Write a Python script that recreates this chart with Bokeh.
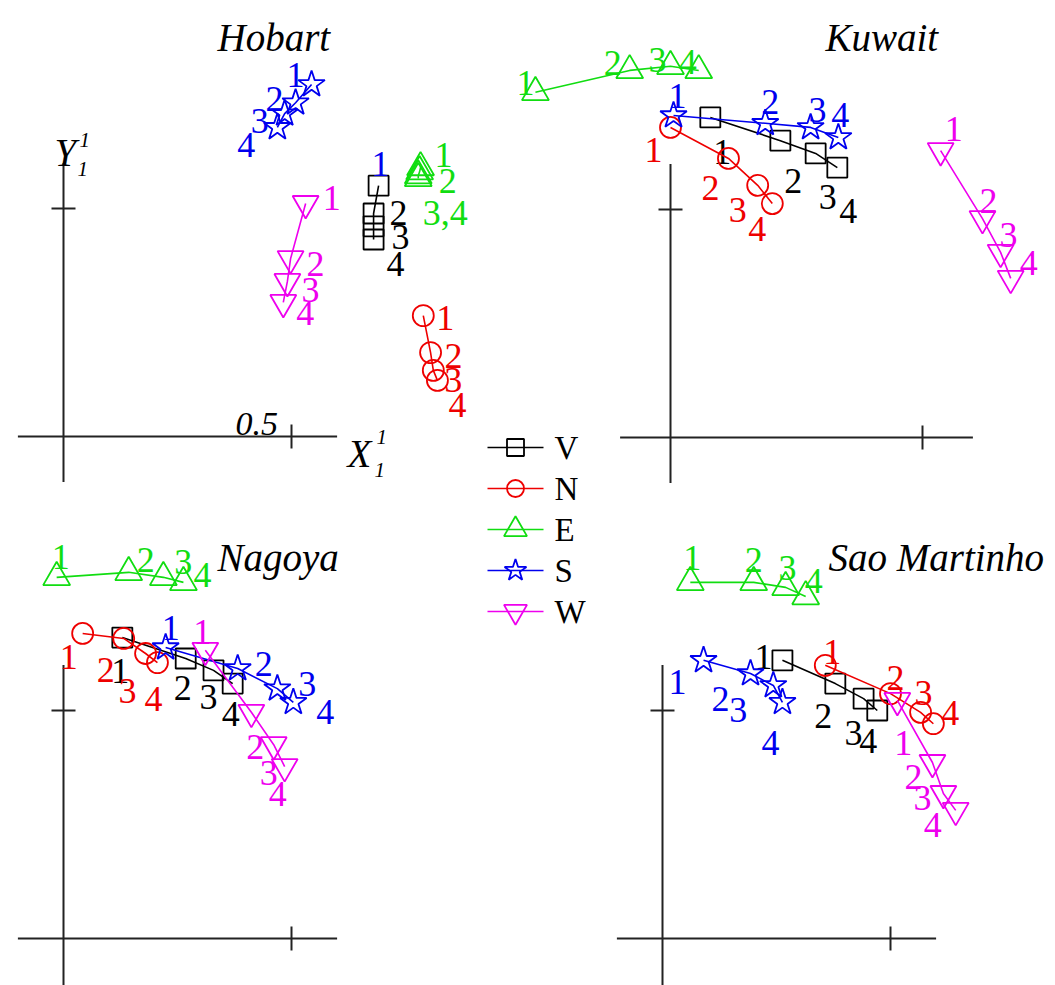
from bokeh.plotting import figure
from bokeh.models import Range1d, ColumnDataSource, Label
from bokeh.embed import file_html
from bokeh.resources import INLINE
from bokeh.core.properties import value

W_PX, H_PX = 1055, 985
FONT = "Liberation Serif"

# ---------------- data (X'1, Y'1 coordinates) ----------------
series = ["V", "N", "E", "S", "W"]
point_labels = ["1", "2", "3", "4"]

# Hobart
hob_V_x = [0.691, 0.680, 0.680, 0.680]
hob_V_y = [0.550, 0.489, 0.461, 0.432]
hob_N_x = [0.789, 0.805, 0.811, 0.820]
hob_N_y = [0.265, 0.184, 0.145, 0.123]
hob_E_x = [0.783, 0.781, 0.778, 0.778]
hob_E_y = [0.590, 0.581, 0.572, 0.566]
hob_S_x = [0.544, 0.509, 0.485, 0.469]
hob_S_y = [0.772, 0.732, 0.708, 0.678]
hob_W_x = [0.531, 0.498, 0.491, 0.482]
hob_W_y = [0.511, 0.390, 0.340, 0.294]

# Kuwait
kuw_V_x = [0.079, 0.218, 0.288, 0.331]
kuw_V_y = [0.702, 0.651, 0.623, 0.592]
kuw_N_x = [0.000, 0.115, 0.173, 0.202]
kuw_N_y = [0.680, 0.612, 0.553, 0.513]
kuw_E_x = [-0.268, -0.081, 0.000, 0.056]
kuw_E_y = [0.757, 0.805, 0.814, 0.805]
kuw_S_x = [0.006, 0.188, 0.278, 0.333]
kuw_S_y = [0.706, 0.689, 0.680, 0.658]
kuw_W_x = [0.536, 0.619, 0.655, 0.675]
kuw_W_y = [0.629, 0.480, 0.406, 0.349]

# Nagoya
nag_V_x = [0.129, 0.268, 0.329, 0.371]
nag_V_y = [0.660, 0.614, 0.588, 0.559]
nag_N_x = [0.042, 0.132, 0.180, 0.206]
nag_N_y = [0.669, 0.658, 0.625, 0.605]
nag_E_x = [-0.015, 0.143, 0.219, 0.263]
nag_E_y = [0.792, 0.803, 0.792, 0.781]
nag_S_x = [0.224, 0.382, 0.469, 0.504]
nag_S_y = [0.638, 0.592, 0.548, 0.518]
nag_W_x = [0.311, 0.412, 0.461, 0.485]
nag_W_y = [0.632, 0.496, 0.425, 0.377]

# Sao Martinho
sao_V_x = [0.263, 0.379, 0.441, 0.471]
sao_V_y = [0.610, 0.559, 0.526, 0.500]
sao_N_x = [0.357, 0.500, 0.566, 0.594]
sao_N_y = [0.599, 0.537, 0.496, 0.471]
sao_E_x = [0.061, 0.200, 0.270, 0.314]
sao_E_y = [0.781, 0.781, 0.770, 0.750]
sao_S_x = [0.090, 0.193, 0.243, 0.263]
sao_S_y = [0.610, 0.581, 0.555, 0.518]
sao_W_x = [0.515, 0.592, 0.616, 0.643]
sao_W_y = [0.522, 0.386, 0.318, 0.281]

panel_names = ["Hobart", "Kuwait", "Nagoya", "Sao Martinho"]
panel_data = {
    "Hobart": {"V": (hob_V_x, hob_V_y), "N": (hob_N_x, hob_N_y), "E": (hob_E_x, hob_E_y),
               "S": (hob_S_x, hob_S_y), "W": (hob_W_x, hob_W_y)},
    "Kuwait": {"V": (kuw_V_x, kuw_V_y), "N": (kuw_N_x, kuw_N_y), "E": (kuw_E_x, kuw_E_y),
               "S": (kuw_S_x, kuw_S_y), "W": (kuw_W_x, kuw_W_y)},
    "Nagoya": {"V": (nag_V_x, nag_V_y), "N": (nag_N_x, nag_N_y), "E": (nag_E_x, nag_E_y),
               "S": (nag_S_x, nag_S_y), "W": (nag_W_x, nag_W_y)},
    "Sao Martinho": {"V": (sao_V_x, sao_V_y), "N": (sao_N_x, sao_N_y), "E": (sao_E_x, sao_E_y),
                     "S": (sao_S_x, sao_S_y), "W": (sao_W_x, sao_W_y)},
}
# special point-label texts (Hobart E points 3 and 4 share one label)
label_text_override = {("Hobart", "E"): ["1", "2", "3,4", ""]}
# label colour override (Hobart V point 1 label drawn in blue in the original)
label_color_override = {("Hobart", "V", 0): "#0000ee"}

axis_tick = 0.5

# ---------------- styles / layout ----------------
colors = {"V": "#000000", "N": "#ee0000", "E": "#11dd11", "S": "#0000ee", "W": "#ee00ee"}
markers = {"V": "square", "N": "circle", "E": "triangle", "S": "star", "W": "inverted_triangle"}
sizes = {"V": 20, "N": 21, "E": 27, "S": 28, "W": 26}
legend_sizes = {"V": 17, "N": 17, "E": 23, "S": 23, "W": 23}

# panel origin (pixels from top-left) and pixel scale per unit
layout = {
    "Hobart": dict(ox=63, oy=436, sx=456, sy=456, title=(217, 37)),
    "Kuwait": dict(ox=670, oy=437, sx=504, sy=456, title=(825, 37)),
    "Nagoya": dict(ox=63, oy=938, sx=456, sy=456, title=(217, 557)),
    "Sao Martinho": dict(ox=662, oy=938, sx=456, sy=456, title=(828, 557)),
}
axis_extent = {"Hobart": (-0.1, 0.6, -0.1, 0.6), "Kuwait": (-0.1, 0.6, -0.1, 0.6),
               "Nagoya": (-0.1, 0.6, -0.11, 0.6), "Sao Martinho": (-0.1, 0.6, -0.11, 0.6)}
TICK_HALF_PX = 12

# label offsets in screen pixels (dx right, dy down)
label_offsets = {
    ("Hobart", "V"): [(2, -22), (25, -1), (27, 11), (22, 24)],
    ("Hobart", "N"): [(22, 2), (23, 3), (20, 10), (20, 25)],
    ("Hobart", "E"): [(23, -12), (28, 9), (27, 37), (0, 0)],
    ("Hobart", "S"): [(-16, -9), (-21, -4), (-25, 7), (-31, 18)],
    ("Hobart", "W"): [(26, -5), (25, 5), (23, 9), (22, 11)],
    ("Kuwait", "V"): [(12, 35), (13, 40), (12, 44), (11, 43)],
    ("Kuwait", "N"): [(-17, 23), (-18, 30), (-20, 25), (-15, 25)],
    ("Kuwait", "E"): [(-10, -9), (-17, -7), (-13, -6), (-11, -8)],
    ("Kuwait", "S"): [(4, -20), (5, -21), (7, -17), (2, -22)],
    ("Kuwait", "W"): [(13, -22), (6, -18), (8, -17), (18, -15)],
    ("Nagoya", "V"): [(-2, 33), (-3, 29), (-5, 27), (-2, 30)],
    ("Nagoya", "N"): [(-14, 24), (-18, 32), (-18, 37), (-4, 36)],
    ("Nagoya", "E"): [(4, -20), (17, -12), (20, -15), (19, -7)],
    ("Nagoya", "S"): [(5, -20), (26, -5), (30, -5), (32, 10)],
    ("Nagoya", "W"): [(-3, -18), (4, 35), (-5, 28), (-7, 27)],
    ("Sao Martinho", "V"): [(-19, -3), (-12, 32), (-10, 34), (-9, 30)],
    ("Sao Martinho", "N"): [(7, -13), (5, -16), (3, -19), (17, -11)],
    ("Sao Martinho", "E"): [(2, -24), (0, -22), (2, -19), (8, -16)],
    ("Sao Martinho", "S"): [(-26, 22), (-30, 25), (-35, 25), (-12, 41)],
    ("Sao Martinho", "W"): [(6, 43), (-19, 15), (-21, 5), (-23, 15)],
}

p = figure(width=W_PX, height=H_PX, x_range=Range1d(0, W_PX), y_range=Range1d(0, H_PX),
           output_backend="svg", toolbar_location=None,
           x_axis_location=None, y_axis_location=None, min_border=0)
p.grid.visible = False
p.outline_line_color = None
p.background_fill_color = "white"
p.border_fill_color = "white"

for name in panel_names:
    L = layout[name]
    xr, yr = f"{name}_x", f"{name}_y"
    p.extra_x_ranges[xr] = Range1d(-L["ox"] / L["sx"], (W_PX - L["ox"]) / L["sx"])
    p.extra_y_ranges[yr] = Range1d(-(H_PX - L["oy"]) / L["sy"], L["oy"] / L["sy"])

    # axes as crossing lines with one tick each at 0.5
    x0, x1, y0, y1 = axis_extent[name]
    tx = TICK_HALF_PX / L["sx"]
    ty = TICK_HALF_PX / L["sy"]
    p.segment(x0=[x0, 0, axis_tick, -tx], y0=[0, y0, -ty, axis_tick],
              x1=[x1, 0, axis_tick, tx], y1=[0, y1, ty, axis_tick],
              line_color="#222222", line_width=2,
              x_range_name=xr, y_range_name=yr)

    for s in series:
        xs, ys = panel_data[name][s]
        texts = label_text_override.get((name, s), point_labels)
        offs = label_offsets[(name, s)]
        tcol = [label_color_override.get((name, s, i), colors[s]) for i in range(len(xs))]
        src = ColumnDataSource(dict(x=xs, y=ys, t=texts,
                                    dx=[o[0] for o in offs], dy=[o[1] for o in offs],
                                    c=tcol))
        p.line("x", "y", source=src, line_color=colors[s], line_width=1.6,
               x_range_name=xr, y_range_name=yr)
        p.scatter("x", "y", source=src, marker=markers[s], size=sizes[s],
                  fill_alpha=0, line_color=colors[s], line_width=1.8,
                  x_range_name=xr, y_range_name=yr)
        p.text("x", "y", text="t", source=src, x_offset="dx", y_offset="dy",
               text_color="c", text_font=value(FONT), text_font_size="36px",
               text_align="center", text_baseline="middle",
               x_range_name=xr, y_range_name=yr)

    tx_, ty_ = L["title"]
    p.add_layout(Label(x=tx_, y=H_PX - ty_, x_units="screen", y_units="screen",
                       text=name, text_font=FONT, text_font_style="italic",
                       text_font_size="39px", text_color="black",
                       text_baseline="alphabetic", text_align="left"))

# axis annotations (Hobart panel)
def add_lbl(x, y, text, size, style="italic"):
    p.add_layout(Label(x=x, y=H_PX - y, x_units="screen", y_units="screen",
                       text=text, text_font=FONT, text_font_style=style,
                       text_font_size=size, text_color="black",
                       text_baseline="alphabetic", text_align="left"))

add_lbl(235, 423, "0.5", "34px")
add_lbl(347, 453, "X", "39px")
add_lbl(376, 436, "1", "21px")
add_lbl(374, 469, "1", "21px")
add_lbl(54, 152, "Y", "39px")
add_lbl(79, 139, "1", "21px")
add_lbl(77, 168, "1", "21px")

# legend (drawn in pixel coordinates)
LEG_X0, LEG_X1, LEG_Y0, LEG_ROW, LEG_TXT = 487, 543, 447, 41, 554
for i, s in enumerate(series):
    yy = H_PX - (LEG_Y0 + i * LEG_ROW)
    p.segment(x0=[LEG_X0], y0=[yy], x1=[LEG_X1], y1=[yy], line_color=colors[s], line_width=1.6)
    p.scatter(x=[(LEG_X0 + LEG_X1) / 2], y=[yy], marker=markers[s], size=legend_sizes[s],
              fill_alpha=0, line_color=colors[s], line_width=1.8)
    p.add_layout(Label(x=LEG_TXT, y=yy, x_units="screen", y_units="screen", text=s,
                       text_font=FONT, text_font_size="33px", text_color="black",
                       text_baseline="middle", text_align="left"))

open("out.html", "w").write(file_html(p, INLINE))
